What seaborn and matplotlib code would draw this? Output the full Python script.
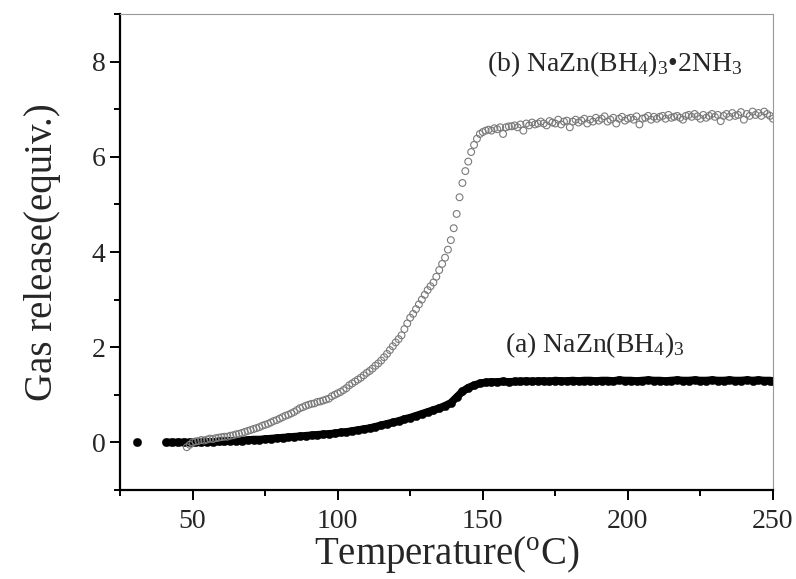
#!/usr/bin/env python3
"""
plot.py — Gas release vs temperature for NaZn(BH4)3 and NaZn(BH4)3·2NH3
"""

import numpy as np
import pandas as pd
import matplotlib
matplotlib.use('Agg')
import matplotlib.pyplot as plt
from matplotlib.ticker import MultipleLocator
import seaborn as sns


# ── Data ────────────────────────────────────────────────────────────────────
# (a) NaZn(BH4)3 — filled black dots (first point is the isolated one at ~31 °C)
temp_a = [31, 41, 43, 45, 47, 49, 51, 53, 55, 57, 59, 61, 63, 65, 67, 69,
          71, 73, 75, 77, 79, 81, 83, 85, 87, 89, 91, 93, 95, 97, 99,
          101, 103, 105, 107, 109, 111, 113, 115, 117, 119, 121, 123, 125,
          127, 129, 131, 133, 135, 137, 139, 141, 143, 145, 147, 149,
          151, 153, 155, 157, 159, 161, 163, 165, 167, 169, 171, 173, 175,
          177, 179, 181, 183, 185, 187, 189, 191, 193, 195, 197, 199,
          201, 203, 205, 207, 209, 211, 213, 215, 217, 219, 221, 223, 225,
          227, 229, 231, 233, 235, 237, 239, 241, 243, 245, 247, 249, 250]
gas_a = [0.00, 0.00, 0.00, 0.00, 0.00, 0.00, 0.00, 0.00, 0.01, 0.01, 0.02,
         0.02, 0.03, 0.04, 0.04, 0.05, 0.06, 0.06, 0.07, 0.08, 0.09, 0.10,
         0.11, 0.12, 0.13, 0.14, 0.15, 0.16, 0.17, 0.18, 0.19,
         0.21, 0.22, 0.24, 0.26, 0.28, 0.30, 0.33, 0.36, 0.39, 0.42, 0.45,
         0.49, 0.52, 0.56, 0.60, 0.64, 0.68, 0.72, 0.77, 0.83, 0.95, 1.07,
         1.15, 1.20, 1.24, 1.26, 1.27, 1.27, 1.28, 1.27, 1.28, 1.28, 1.29,
         1.28, 1.29, 1.29, 1.28, 1.30, 1.29, 1.29, 1.30, 1.29, 1.30, 1.30,
         1.29, 1.30, 1.30, 1.29, 1.31, 1.30, 1.30, 1.29, 1.30, 1.31, 1.30,
         1.30, 1.29, 1.30, 1.31, 1.30, 1.30, 1.31, 1.30, 1.30, 1.31, 1.30,
         1.30, 1.31, 1.30, 1.30, 1.31, 1.30, 1.31, 1.30, 1.30, 1.29]

# (b) NaZn(BH4)3·2NH3 — open grey circles, one reading per degree from 48 °C
temp_b = list(range(48, 251))
gas_b = [-0.10, -0.05, 0.00, 0.02, 0.03, 0.05, 0.04, 0.06, 0.08, 0.07,
         0.09, 0.10, 0.11, 0.12, 0.12, 0.14, 0.15, 0.17, 0.18, 0.20,
         0.22, 0.24, 0.26, 0.28, 0.30, 0.32, 0.35, 0.37, 0.39, 0.42,
         0.45, 0.47, 0.50, 0.53, 0.56, 0.58, 0.61, 0.64, 0.68, 0.72,
         0.74, 0.77, 0.79, 0.81, 0.82, 0.85, 0.86, 0.88, 0.90, 0.92,
         0.97, 1.00, 1.03, 1.06, 1.10, 1.14, 1.20, 1.24, 1.28, 1.32,
         1.36, 1.41, 1.46, 1.50, 1.55, 1.61, 1.66, 1.72, 1.79, 1.86,
         1.94, 2.02, 2.10, 2.17, 2.25, 2.38, 2.50, 2.62, 2.70, 2.80,
         2.90, 3.00, 3.10, 3.20, 3.28, 3.36, 3.48, 3.62, 3.75, 3.88,
         4.05, 4.25, 4.50, 4.80, 5.15, 5.45, 5.70, 5.90, 6.10, 6.25,
         6.38, 6.48, 6.52, 6.55, 6.57, 6.55, 6.60, 6.58, 6.62, 6.48,
         6.62, 6.64,
         6.64, 6.66, 6.62, 6.68, 6.55, 6.70, 6.66, 6.72, 6.68, 6.70, 6.74,
         6.70, 6.66, 6.75, 6.72, 6.70, 6.78, 6.68, 6.74, 6.76, 6.62,
         6.74, 6.78, 6.72, 6.76, 6.80, 6.70, 6.78, 6.74, 6.82, 6.76,
         6.80, 6.85, 6.74, 6.78, 6.82, 6.70, 6.80, 6.84, 6.76, 6.80,
         6.82, 6.78, 6.85, 6.68, 6.80, 6.82, 6.86, 6.78, 6.84, 6.80,
         6.84, 6.86, 6.80, 6.88, 6.82, 6.84, 6.86, 6.82, 6.78, 6.86,
         6.88, 6.84, 6.90, 6.85, 6.80, 6.88, 6.82, 6.86, 6.90, 6.84,
         6.88, 6.75, 6.86, 6.90, 6.84, 6.92, 6.86, 6.88, 6.94, 6.78,
         6.90, 6.86, 6.95, 6.88, 6.92, 6.86, 6.95, 6.90, 6.86, 6.80]
gas_b = gas_b[:len(temp_b)]

X_TICKS = [50, 100, 150, 200, 250]
Y_TICKS = [0, 2, 4, 6, 8]

LABEL_A = r'(a) NaZn(BH$_4$)$_3$'
LABEL_B = r'(b) NaZn(BH$_4$)$_3$•2NH$_3$'


def main():
    sns.set_style('white')
    plt.rcParams['font.family'] = ['Liberation Serif', 'DejaVu Serif']
    plt.rcParams['mathtext.fontset'] = 'custom'
    plt.rcParams['mathtext.rm'] = 'Liberation Serif'
    plt.rcParams['mathtext.it'] = 'Liberation Serif:italic'

    df_a = pd.DataFrame({'T': temp_a, 'gas': gas_a})
    df_b = pd.DataFrame({'T': temp_b, 'gas': gas_b})

    fig = plt.figure(figsize=(7.96, 5.79), dpi=100)
    ax = fig.add_axes([0.1508, 0.1537, 0.8202, 0.8221])

    # dense black trace: dots plus a thick band through them (no link to the stray point)
    sns.lineplot(data=df_a.iloc[1:], x='T', y='gas', ax=ax, color='black',
                 linewidth=5.5, sort=False, zorder=2)
    sns.scatterplot(data=df_a, x='T', y='gas', ax=ax, s=36,
                    color='black', edgecolor='black', linewidth=0.3,
                    marker='o', zorder=2)
    sns.scatterplot(data=df_b, x='T', y='gas', ax=ax, s=24,
                    facecolor='none', edgecolor='#7a7a7a', linewidth=0.8,
                    marker='o', zorder=3)

    ax.set_xlim(25, 250)
    ax.set_ylim(-1, 9)
    ax.set_xticks(X_TICKS)
    ax.set_yticks(Y_TICKS)
    ax.xaxis.set_minor_locator(MultipleLocator(25))
    ax.yaxis.set_minor_locator(MultipleLocator(1))

    # Origin-style frame: heavy left/bottom, thin grey top/right
    for side in ['left', 'bottom']:
        ax.spines[side].set_color('black')
        ax.spines[side].set_linewidth(1.6)
    for side in ['top', 'right']:
        ax.spines[side].set_color('#999999')
        ax.spines[side].set_linewidth(0.8)

    ax.tick_params(which='major', direction='out', length=7, width=1.4,
                   labelsize=20, color='black', bottom=True, left=True)
    ax.tick_params(which='minor', direction='out', length=4, width=1.4,
                   color='black', bottom=True, left=True)
    ax.tick_params(axis='x', pad=7)

    ax.set_xlabel(r'Temperature($^{\rm o}$C)', fontsize=28, labelpad=0)
    ax.set_ylabel('Gas release(equiv.)', fontsize=28, labelpad=22)

    ax.text(151.4, 7.8, LABEL_B, fontsize=20, ha='left', va='baseline')
    ax.text(157.8, 1.89, LABEL_A, fontsize=20, ha='left', va='baseline')

    fig.savefig('out.png', dpi=100)
    plt.close(fig)


if __name__ == '__main__':
    main()
